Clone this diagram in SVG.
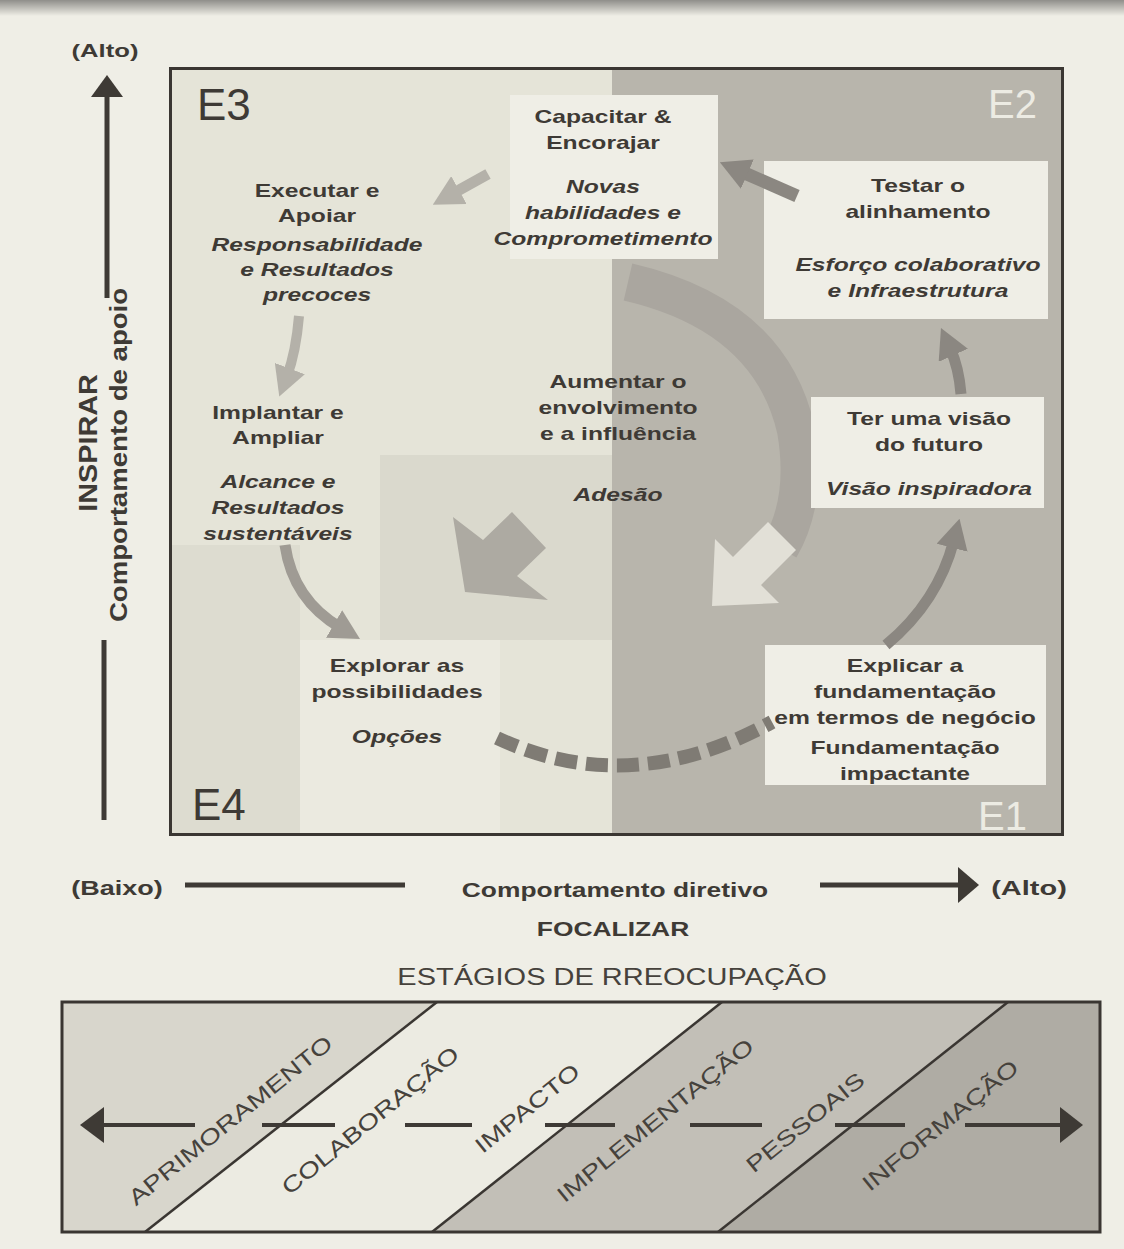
<svg xmlns="http://www.w3.org/2000/svg" width="1124" height="1249" viewBox="0 0 1124 1249">
<style>
.t{font-family:"Liberation Sans",Arial,Helvetica,sans-serif;font-weight:bold;font-size:18px;fill:#3e3a35;text-anchor:middle}
.i{font-style:italic}
.ax{font-family:"Liberation Sans",Arial,Helvetica,sans-serif;font-weight:bold;font-size:20px;fill:#3e3a35;text-anchor:middle}
.big{font-family:"Liberation Sans",Arial,Helvetica,sans-serif;font-size:44px;fill:#3e3a35}
.bigw{font-family:"Liberation Sans",Arial,Helvetica,sans-serif;font-size:40px;fill:#ecebe3}
.st{font-family:"Liberation Sans",Arial,Helvetica,sans-serif;font-size:22px;fill:#46423c;text-anchor:middle}
.box{fill:#efeee6}
.conn{fill:none;stroke-linecap:butt}
.dk{stroke:#8b8781}
.md{stroke:#9f9b94}
.lt{stroke:#b4b1a9}
.axl{stroke:#3e3a35;stroke-width:5}
.dash{stroke:#3e3a35;stroke-width:4}
</style>
<defs>
<linearGradient id="topShade" x1="0" y1="0" x2="0" y2="1">
<stop offset="0" stop-color="#8f8e8a"/>
<stop offset="1" stop-color="#efeee6"/>
</linearGradient>
<marker id="ahDark" markerUnits="userSpaceOnUse" markerWidth="30" markerHeight="32" viewBox="0 0 30 32" refX="8" refY="16" orient="auto"><path d="M0,0 L30,16 L0,32 z" fill="#8b8781"/></marker>
<marker id="ahMid" markerUnits="userSpaceOnUse" markerWidth="30" markerHeight="32" viewBox="0 0 30 32" refX="8" refY="16" orient="auto"><path d="M0,0 L30,16 L0,32 z" fill="#9f9b94"/></marker>
<marker id="ahLight" markerUnits="userSpaceOnUse" markerWidth="30" markerHeight="32" viewBox="0 0 30 32" refX="8" refY="16" orient="auto"><path d="M0,0 L30,16 L0,32 z" fill="#b4b1a9"/></marker>
</defs>

<!-- page -->
<rect x="0" y="0" width="1124" height="1249" fill="#efeee6"/>
<rect x="0" y="0" width="1124" height="16" fill="url(#topShade)"/>

<!-- main quadrant background -->
<g id="quadrant-bg">
<rect x="170" y="68" width="442" height="767" fill="#e5e4d8"/>
<rect x="612" y="68" width="451" height="767" fill="#b8b5ac"/>
<rect x="380" y="455" width="232" height="185" fill="#dad9cd"/>
<rect x="170" y="545" width="130" height="290" fill="#dddcd0"/>
<rect x="300" y="640" width="200" height="195" fill="#ebeae0"/>
</g>

<!-- central cycle artwork -->
<g id="central-cycle">
<path d="M628,282 Q770,315 796,430 Q808,500 780,548" fill="none" stroke="#aaa69f" stroke-width="38"/>
<polygon points="712,606 779,603 761,585 796,550 768,522 733,557 715,539" fill="#e2e0d7"/>
<polygon points="465,592 548,600 517,576 546,548 512,512 483,540 453,517" fill="#adaaa2"/>
</g>

<!-- white boxes -->
<rect class="box" x="510" y="95" width="208" height="164"/>
<rect class="box" x="764" y="161" width="284" height="158"/>
<rect class="box" x="811" y="397" width="233" height="111"/>
<rect class="box" x="765" y="645" width="281" height="140"/>

<!-- connectors -->
<g id="connectors">
<path class="conn dk" stroke-width="13" d="M797,196 L740,171" marker-end="url(#ahDark)"/>
<path class="conn lt" stroke-width="11" d="M488,174 L452,194" marker-end="url(#ahLight)"/>
<path class="conn lt" stroke-width="10" d="M299,316 Q296,352 287,376" marker-end="url(#ahLight)"/>
<path class="conn md" stroke-width="11" d="M285,545 Q293,600 341,628" marker-end="url(#ahMid)"/>
<path class="conn" stroke="#7f7b74" stroke-width="14" stroke-dasharray="22 9" d="M497,738 Q630,800 772,722"/>
<path class="conn dk" stroke-width="11" d="M886,645 Q938,602 954,540" marker-end="url(#ahDark)"/>
<path class="conn dk" stroke-width="11" d="M961,394 Q959,368 950,348" marker-end="url(#ahDark)"/>
</g>

<!-- frame -->
<rect x="170.5" y="68.5" width="892" height="766" fill="none" stroke="#3a3632" stroke-width="3"/>

<!-- quadrant labels -->
<g id="quadrant-labels">
<text class="big" x="197" y="120">E3</text>
<text class="bigw" x="988" y="118">E2</text>
<text class="big" x="192" y="820">E4</text>
<text class="bigw" x="978" y="830">E1</text>
</g>

<!-- nodes -->
<g id="node-capacitar" transform="translate(603,0) scale(1.37,1)">
<text class="t" x="0" y="123">Capacitar &amp;</text>
<text class="t" x="0" y="149">Encorajar</text>
<text class="t i" x="0" y="193">Novas</text>
<text class="t i" x="0" y="219">habilidades e</text>
<text class="t i" x="0" y="245">Comprometimento</text>
</g>
<g id="node-executar" transform="translate(317,0) scale(1.37,1)">
<text class="t" x="0" y="197">Executar e</text>
<text class="t" x="0" y="222">Apoiar</text>
<text class="t i" x="0" y="251">Responsabilidade</text>
<text class="t i" x="0" y="276">e Resultados</text>
<text class="t i" x="0" y="301">precoces</text>
</g>
<g id="node-testar" transform="translate(918,0) scale(1.37,1)">
<text class="t" x="0" y="192">Testar o</text>
<text class="t" x="0" y="218">alinhamento</text>
<text class="t i" x="0" y="271">Esforço colaborativo</text>
<text class="t i" x="0" y="297">e Infraestrutura</text>
</g>
<g id="node-aumentar" transform="translate(618,0) scale(1.37,1)">
<text class="t" x="0" y="388">Aumentar o</text>
<text class="t" x="0" y="414">envolvimento</text>
<text class="t" x="0" y="440">e a influência</text>
<text class="t i" x="0" y="501">Adesão</text>
</g>
<g id="node-implantar" transform="translate(278,0) scale(1.37,1)">
<text class="t" x="0" y="419">Implantar e</text>
<text class="t" x="0" y="444">Ampliar</text>
<text class="t i" x="0" y="488">Alcance e</text>
<text class="t i" x="0" y="514">Resultados</text>
<text class="t i" x="0" y="540">sustentáveis</text>
</g>
<g id="node-visao" transform="translate(929,0) scale(1.37,1)">
<text class="t" x="0" y="425">Ter uma visão</text>
<text class="t" x="0" y="451">do futuro</text>
<text class="t i" x="0" y="495">Visão inspiradora</text>
</g>
<g id="node-explorar" transform="translate(397,0) scale(1.37,1)">
<text class="t" x="0" y="672">Explorar as</text>
<text class="t" x="0" y="698">possibilidades</text>
<text class="t i" x="0" y="743">Opções</text>
</g>
<g id="node-explicar" transform="translate(905,0) scale(1.37,1)">
<text class="t" x="0" y="672">Explicar a</text>
<text class="t" x="0" y="698">fundamentação</text>
<text class="t" x="0" y="724">em termos de negócio</text>
<text class="t" x="0" y="754">Fundamentação</text>
<text class="t" x="0" y="780">impactante</text>
</g>

<!-- vertical axis -->
<g id="axis-vertical">
<text class="ax" transform="translate(105,57) scale(1.35,1)" x="0" y="0" style="font-size:19px">(Alto)</text>
<polygon points="107,75 123,97 91,97" fill="#3e3a35"/>
<line class="axl" x1="107" y1="96" x2="107" y2="298"/>
<line class="axl" x1="104" y1="640" x2="104" y2="820"/>
<text class="ax" transform="translate(97,443) rotate(-90) scale(1.15,1)" style="font-size:25px">INSPIRAR</text>
<text class="ax" transform="translate(127,455) rotate(-90) scale(1.15,1)" style="font-size:24px">Comportamento de apoio</text>
</g>

<!-- horizontal axis -->
<g id="axis-horizontal">
<text class="ax" transform="translate(117,895) scale(1.35,1)">(Baixo)</text>
<line class="axl" x1="185" y1="885" x2="405" y2="885"/>
<text class="ax" transform="translate(615,897) scale(1.32,1)">Comportamento diretivo</text>
<line class="axl" x1="820" y1="885" x2="962" y2="885"/>
<polygon points="958,867 979,885 958,903" fill="#3e3a35"/>
<text class="ax" transform="translate(1029,895) scale(1.45,1)">(Alto)</text>
<text class="ax" transform="translate(613,936) scale(1.32,1)">FOCALIZAR</text>
</g>

<!-- stages of concern -->
<g id="stages">
<text class="st" transform="translate(612,985) scale(1.26,1)" style="font-size:23px">ESTÁGIOS DE RREOCUPAÇÃO</text>
<polygon points="62,1002 437,1002 145,1232 62,1232" fill="#d8d6cc"/>
<polygon points="437,1002 722,1002 432,1232 145,1232" fill="#ecebe2"/>
<polygon points="722,1002 1008,1002 718,1232 432,1232" fill="#c2bfb7"/>
<polygon points="1008,1002 1100,1002 1100,1232 718,1232" fill="#afaca4"/>
<g stroke="#3a3632" stroke-width="2.5">
<line x1="145" y1="1232" x2="437" y2="1002"/>
<line x1="432" y1="1232" x2="722" y2="1002"/>
<line x1="718" y1="1232" x2="1008" y2="1002"/>
</g>
<rect x="62" y="1002" width="1038" height="230" fill="none" stroke="#3a3632" stroke-width="3"/>
<g id="stage-arrow">
<polygon points="80,1125 104,1107 104,1143" fill="#3e3a35"/>
<line class="dash" x1="103" y1="1125" x2="195" y2="1125"/>
<line class="dash" x1="262" y1="1125" x2="335" y2="1125"/>
<line class="dash" x1="405" y1="1125" x2="472" y2="1125"/>
<line class="dash" x1="545" y1="1125" x2="615" y2="1125"/>
<line class="dash" x1="690" y1="1125" x2="762" y2="1125"/>
<line class="dash" x1="835" y1="1125" x2="905" y2="1125"/>
<line class="dash" x1="965" y1="1125" x2="1062" y2="1125"/>
<polygon points="1060,1107 1083,1125 1060,1143" fill="#3e3a35"/>
</g>
<text class="st" transform="translate(230,1120) rotate(-39) scale(1.3,1)" y="8">APRIMORAMENTO</text>
<text class="st" transform="translate(370,1120) rotate(-39) scale(1.3,1)" y="8">COLABORAÇÃO</text>
<text class="st" transform="translate(527,1108) rotate(-39) scale(1.3,1)" y="8">IMPACTO</text>
<text class="st" transform="translate(655,1120) rotate(-39) scale(1.3,1)" y="8">IMPLEMENTAÇÃO</text>
<text class="st" transform="translate(805,1122) rotate(-39) scale(1.3,1)" y="8">PESSOAIS</text>
<text class="st" transform="translate(940,1125) rotate(-39) scale(1.3,1)" y="8">INFORMAÇÃO</text>
</g>
</svg>
